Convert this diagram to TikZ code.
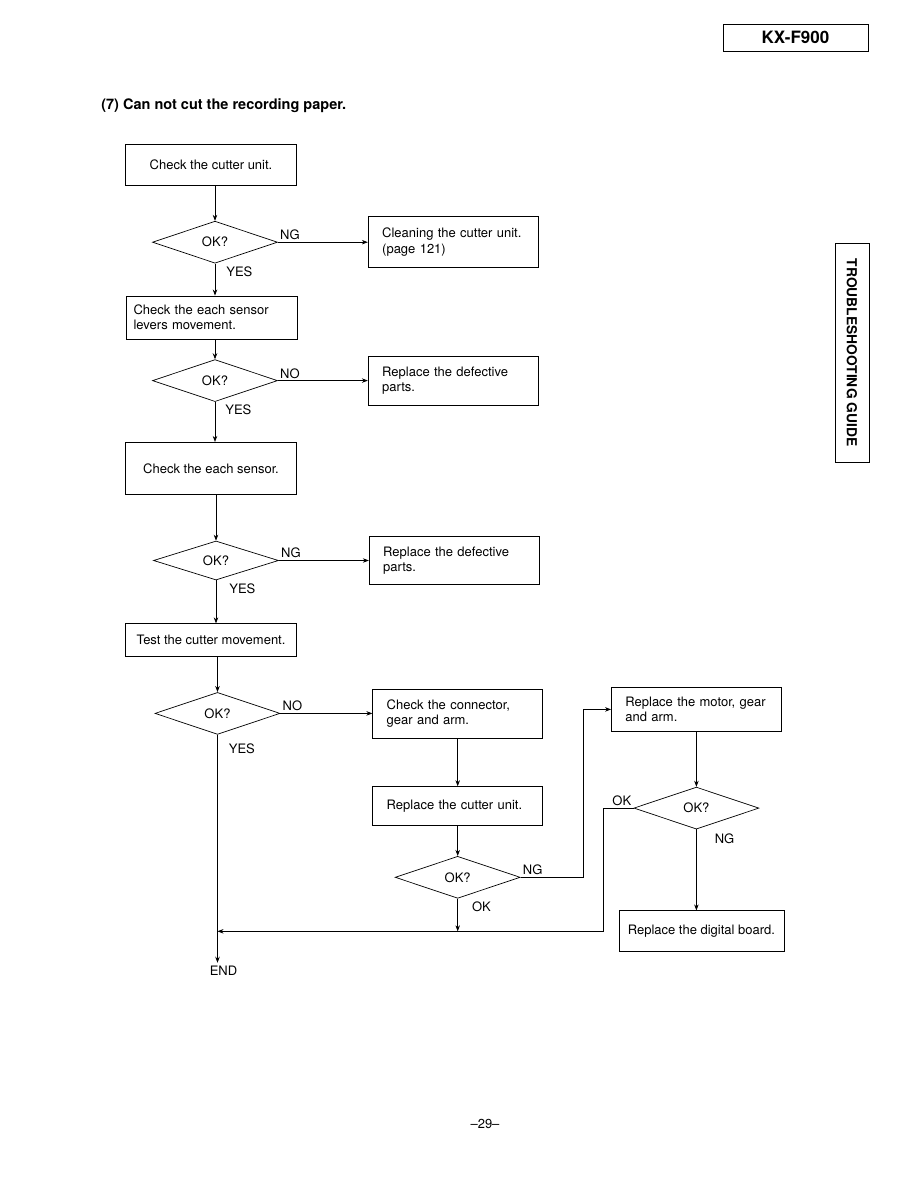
\documentclass[tikz,border=0pt]{standalone}
\usepackage{fontspec}
\setmainfont{TeX Gyre Heros}
\usetikzlibrary{arrows.meta,positioning,shapes.geometric}

\begin{document}
\begin{tikzpicture}[
      x=1pt, y=-1pt, >={Stealth[length=6pt,width=4.5pt]},
      font=\fontsize{13}{15.5}\selectfont, line width=0.7pt,
      proc/.style={draw, align=center, minimum width=171pt, inner sep=4pt},
      act/.style={draw, align=left, text width=142pt, inner xsep=14pt,
                  minimum height=49pt},
      dec/.style={draw, diamond, aspect=3, inner sep=0pt,
                  minimum width=125pt, minimum height=42pt},
      lab/.style={inner sep=2pt},
    ]
    \useasboundingbox (0,0) rectangle (918,1188);

    % page furniture
    \node[draw, minimum width=145pt, minimum height=27pt,
          font=\bfseries\fontsize{17}{20}\selectfont] (model) at (795.5,37.5) {KX-F900};
    \node[anchor=west, inner sep=0pt, font=\bfseries\fontsize{14.5}{17}\selectfont]
      (title) at (101,106) {(7) Can not cut the recording paper.};
    \node[draw, rotate=-90, minimum width=219pt, minimum height=34pt,
          font=\bfseries\fontsize{13.8}{16}\selectfont] (tab) at (852,352.5) {TROUBLESHOOTING GUIDE};
    \node (page) at (485,1124) {--29--};

    % main column
    \node[proc, minimum height=41pt] (chk1) at (211,165) {Check the cutter unit.};
    \node[dec, below=35pt of chk1, xshift=4pt] (d1) {OK?};
    \node[proc, align=left, text width=157pt, inner xsep=7pt, minimum height=43pt,
          below=32pt of d1, xshift=-3pt] (lev) {Check the each sensor\\levers movement.};
    \node[dec, below=20pt of lev, xshift=3pt] (d2) {OK?};
    \node[proc, minimum height=52pt, below=40pt of d2, xshift=-4pt] (sen) {Check the each sensor.};
    \node[dec, minimum height=39pt, below=46pt of sen, xshift=5pt] (d3) {OK?};
    \node[proc, minimum height=33pt, below=43pt of d3, xshift=-5pt] (mov) {Test the cutter movement.};
    \node[dec, below=35pt of mov, xshift=6.5pt] (d4) {OK?};
    \node[below=228pt of d4, xshift=6pt] (fin) {END};

    % right-hand branches
    \node[act, minimum height=51pt, right=90pt of d1] (clean) {Cleaning the cutter unit.\\(page 121)};
    \node[act, right=90pt of d2] (rep1) {Replace the defective\\parts.};
    \node[act, minimum height=48pt, right=90pt of d3] (rep2) {Replace the defective\\parts.};
    \node[act, right=92pt of d4] (conn) {Check the connector,\\gear and arm.};
    \node[act, minimum height=39pt, below=48pt of conn] (cut) {Replace the cutter unit.};
    \node[dec, below=30pt of cut] (d5) {OK?};
    \node[act, minimum height=44pt, right=68pt of conn, yshift=4pt] (motor) {Replace the motor, gear\\and arm.};
    \node[dec, below=55pt of motor] (d6) {OK?};
    \node[proc, minimum width=165pt, minimum height=41pt, below=81pt of d6, xshift=5pt]
      (board) {Replace the digital board.};
    \coordinate (join) at (d4 |- board);

    % flows
    \draw[->] (chk1.south -| d1) -- (d1.north);
    \draw[->] (d1.south) -- (d1.south |- lev.north) node[pos=0.27, lab, right=9pt]{YES};
    \draw[->] (d1.east) -- (clean) node[pos=0, lab, above right]{NG};
    \draw[->] (lev.south -| d2) -- (d2.north);
    \draw[->] (d2.south) -- (d2.south |- sen.north) node[pos=0.2, lab, right=8pt]{YES};
    \draw[->] (d2.east) -- (rep1) node[pos=0, lab, above right]{NO};
    \draw[->] (sen.south -| d3) -- (d3.north);
    \draw[->] (d3.south) -- (d3.south |- mov.north) node[pos=0.2, lab, right=11pt]{YES};
    \draw[->] (d3.east) -- (rep2) node[pos=0, lab, above right]{NG};
    \draw[->] (mov.south -| d4) -- (d4.north);
    \draw[->] (d4.east) -- (conn) node[pos=0, lab, above right]{NO};
    \draw[->] (d4.south) -- (d4.south |- fin.north) node[pos=0.06, lab, right=9pt]{YES};

    \draw[->] (conn) -- (cut);
    \draw[->] (cut) -- (d5);
    \draw[->] (d5.south) -- (d5.south |- join) node[pos=0.25, lab, right=12pt]{OK};
    \draw[->] (d5.east) node[lab, above right]{NG} -- ++(63,0) |- (motor.west);
    \draw[->] (motor) -- (d6);
    \draw[->] (d6.west) node[lab, above left]{OK} -- ++(-30,0) |- (join);
    \draw[->] (d6.south) -- (d6.south |- board.north) node[pos=0.12, lab, right=16pt]{NG};
  \end{tikzpicture}
\end{document}
